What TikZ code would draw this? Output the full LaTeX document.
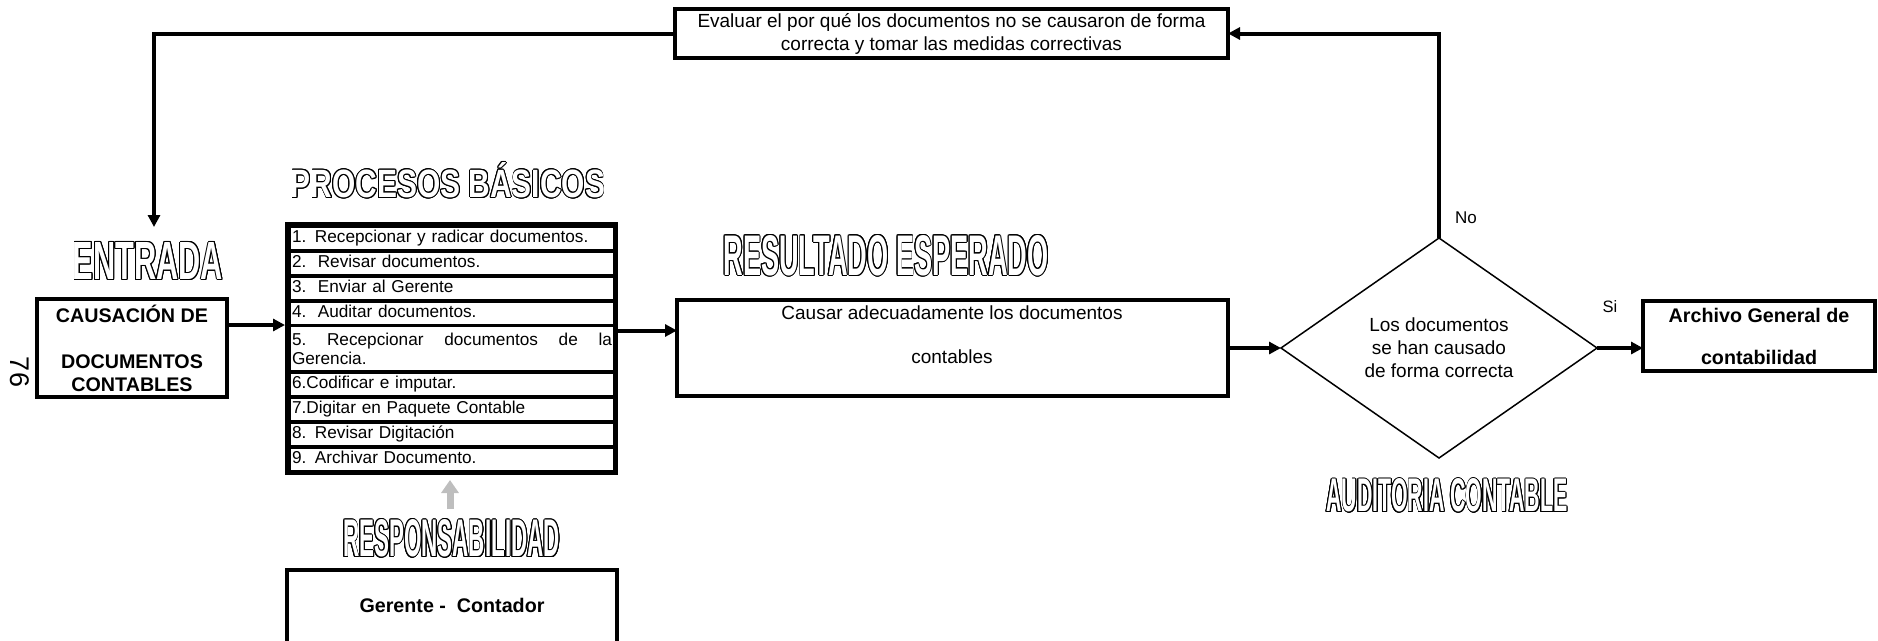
\documentclass[tikz,border=0pt]{standalone}
\usepackage{fontspec}
\setmainfont{Liberation Sans}
\usepackage{graphicx}
\usepackage{contour}
\contourlength{0.9pt}
\usetikzlibrary{arrows.meta,shapes.geometric}
\definecolor{graybar}{RGB}{190,190,190}
\newcommand{\outl}[3]{\contour{black}{\resizebox{#1}{#2}{#3}}}
\begin{document}
\begin{tikzpicture}[x=1pt,y=-1pt,
  every node/.style={inner sep=0pt, outer sep=0pt},
  conn/.style={line width=4pt, -{Triangle[length=12pt,width=12pt]}},
  bx/.style={draw=black, line width=4pt, rectangle},
  reg/.style={font=\fontsize{19}{22}\selectfont, align=center},
  bld/.style={font=\fontsize{19.7}{23}\selectfont\bfseries, align=center},
  row/.style={fill=white, anchor=west, text width=320pt, inner xsep=1pt, align=left,
              font=\fontsize{17.2}{19.5}\selectfont, execute at begin node=\strut},
  ttl/.style={text=white, font=\bfseries}
]
\useasboundingbox (0,0) rectangle (1878,640);

% titles
\node[ttl] (tEnt) at (148,261.5) {\outl{150pt}{37pt}{ENTRADA}};
\node[ttl] (tProc) at (448,180.5) {\outl{314pt}{35pt}{PROCESOS BÁSICOS}};
\node[ttl] (tRes) at (886,256) {\outl{325pt}{40pt}{RESULTADO ESPERADO}};
\node[ttl] (tResp) at (451.5,539) {\outl{217pt}{37pt}{RESPONSABILIDAD}};
\node[ttl] (tAud) at (1447,496) {\outl{241pt}{33pt}{AUDITORIA CONTABLE}};

% page number
\node[rotate=-90, font=\fontsize{27}{30}\selectfont] (pg) at (20,372) {76};

% boxes
\node[bx, bld, minimum width=190pt, minimum height=98pt] (entrada) at (132,348)
  {CAUSACIÓN DE\\[23pt]DOCUMENTOS\\CONTABLES};
\node[bx, font=\fontsize{19}{23}\selectfont, align=center, minimum width=553pt, minimum height=49pt] (top) at (951.5,33.5)
  {Evaluar el por qué los documentos no se causaron de forma\\correcta y tomar las medidas correctivas};
\node[bx, minimum width=551pt, minimum height=96pt] (resul) at (952.5,348) {};
\node[reg] (resText) at (952,335) {Causar adecuadamente los documentos\\[22pt]contables};
\node[draw=black, diamond, line width=1.5pt, minimum width=316pt, minimum height=220pt,
      aspect=1.436, font=\fontsize{19}{23}\selectfont, align=center] (diam) at (1439,348)
  {Los documentos\\se han causado\\de forma correcta};
\node[bx, bld, minimum width=232pt, minimum height=70pt] (arch) at (1759,336)
  {Archivo General de\\[19pt]contabilidad};
\node[bx, minimum width=330pt, minimum height=110pt, anchor=north] (resp) at (452,570) {};
\node[bld] (respText) at (452,605) {Gerente -\ \ Contador};

% process list
\node[fill=black, minimum width=333pt, minimum height=253pt] (proc) at (451.5,348.5) {};
\node[row, minimum height=21pt] (r1) at (291,238.5) {1. Recepcionar y radicar documentos.};
\node[row, minimum height=21pt] (r2) at (291,263.5) {2.\ \ Revisar documentos.};
\node[row, minimum height=21pt] (r3) at (291,288.5) {3.\ \ Enviar al Gerente};
\node[row, minimum height=21pt] (r4) at (291,313.5) {4.\ \ Auditar documentos.};
\node[row, minimum height=43pt] (r5) at (291,348.5) {\makebox[320pt][l]{5.\hfill Recepcionar\hfill documentos\hfill de\hfill la}\\Gerencia.};
\node[row, minimum height=21pt] (r6) at (291,384.5) {6.Codificar e imputar.};
\node[row, minimum height=21pt] (r7) at (291,409.5) {7.Digitar en Paquete Contable};
\node[row, minimum height=21pt] (r8) at (291,434.5) {8. Revisar Digitación};
\node[row, minimum height=21pt] (r9) at (291,459.5) {9. Archivar Documento.};

% labels
\node[font=\fontsize{17}{20}\selectfont] (lNo) at (1466,218) {No};
\node[font=\fontsize{16.5}{20}\selectfont] (lSi) at (1610,307) {Si};

% connectors
\draw[conn] ([yshift=23pt]entrada.east) -- ([yshift=23pt]entrada.east -| proc.west);
\draw[conn] ([yshift=18pt]proc.east) -- ([yshift=18pt]proc.east -| resul.west);
\draw[conn] (resul.east) -- (diam.west);
\draw[conn] (diam.east) -- (diam.east -| arch.west);
\draw[conn] (diam.north) |- (top.east);
\coordinate (inA) at (154,227);
\draw[conn] (top.west) -| (inA);
\coordinate (g1) at (450,509);
\draw[line width=7pt, draw=graybar, -{Triangle[length=13pt,width=17pt]}] (g1) -- ([yshift=-5pt]proc.south -| g1);
\end{tikzpicture}
\end{document}
